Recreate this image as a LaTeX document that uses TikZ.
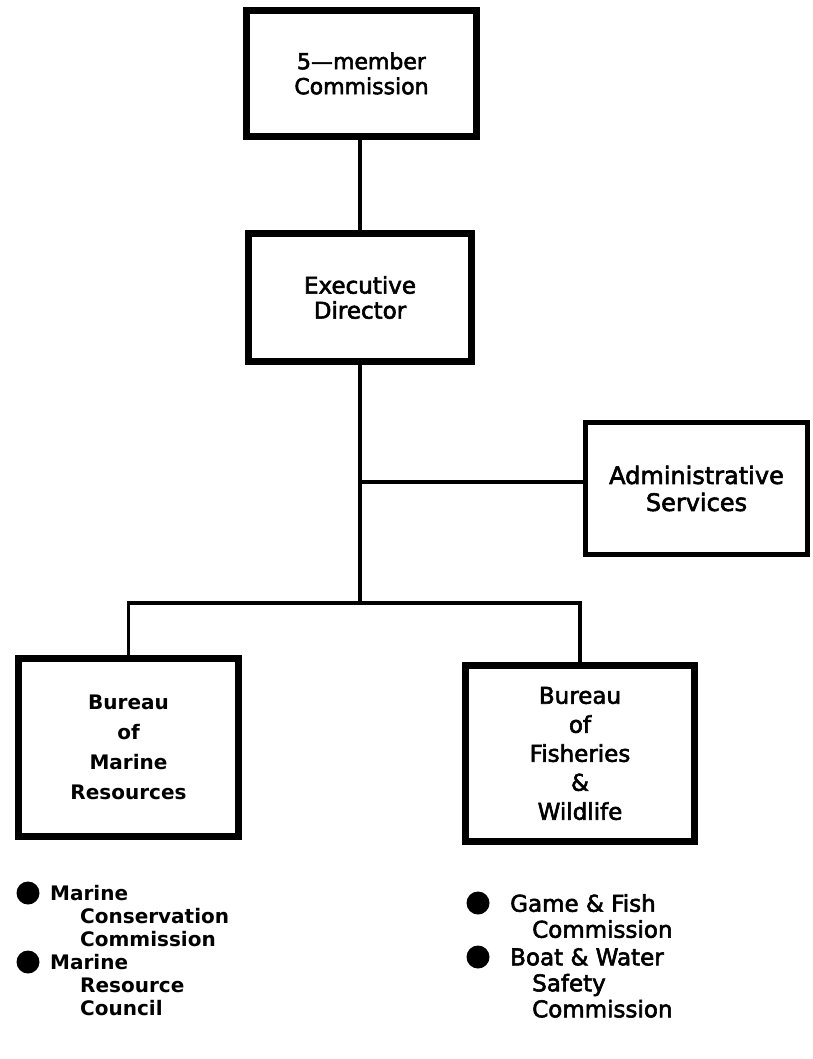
\documentclass[tikz,border=0pt]{standalone}
\usepackage{fontspec}
\setmainfont{DejaVu Sans}[FakeBold=2.5]
\newfontfamily\heavyf{DejaVu Sans Bold}
\begin{document}
\begin{tikzpicture}[x=1pt,y=-1pt,
  box/.style={draw, line width=7.5pt, inner sep=0pt, align=center, font=\fontsize{23}{25}\selectfont},
  conn/.style={line width=3.2pt},
  dot/.style={circle, fill, inner sep=0pt, minimum size=23pt},
  item/.style={anchor=north west, align=left, inner sep=0pt}]
\useasboundingbox[fill=white] (0,0) rectangle (812,1059);
\node[box, font=\fontsize{22}{25}\selectfont, minimum width=230pt, minimum height=126pt] (comm) at (361.5,73.5) {5---member\\Commission};
\node[box, minimum width=223pt, minimum height=128pt] (ed) at (360,297.5) {Executive\\Director};
\node[box, line width=5pt, font=\fontsize{24}{27}\selectfont, minimum width=222pt, minimum height=132pt] (adm) at (696.5,488.5) {Administrative\\Services};
\node[box, font=\heavyf\fontsize{20}{30}\selectfont, minimum width=220pt, minimum height=178pt] (bmr) at (128.5,747.5) {Bureau\\of\\Marine\\Resources};
\node[box, font=\fontsize{23}{29}\selectfont, minimum width=229pt, minimum height=176pt] (bfw) at (580,753.5) {Bureau\\of\\Fisheries\\\&\\Wildlife};
\coordinate (a1) at (360,482);
\coordinate (bar) at (360,603);
\draw[conn] (ed.north) -- (ed.north |- comm.south);
\draw[conn] (ed.south) -- (bar);
\draw[conn] (a1) -- (a1 -| adm.west);
\draw[conn] (bmr.north) -- (bmr.north |- bar) -- (bfw.north |- bar) -- (bfw.north);
% left list
\node[dot] (d1) at (28,893) {};
\node[dot] (d2) at (28,962) {};
\node[item, font=\heavyf\fontsize{20}{23}\selectfont] (l1) at (50,885) {Marine\\\hspace*{30pt}Conservation\\\hspace*{30pt}Commission};
\node[item, font=\heavyf\fontsize{20}{23}\selectfont] (l2) at (50,954) {Marine\\\hspace*{30pt}Resource\\\hspace*{30pt}Council};
% right list
\node[dot] (d3) at (478,903) {};
\node[dot] (d4) at (478,957) {};
\node[item, font=\fontsize{23}{26}\selectfont] (r1) at (510,894) {Game \& Fish\\\hspace*{22pt}Commission};
\node[item, font=\fontsize{23}{26}\selectfont] (r2) at (510,948) {Boat \& Water\\\hspace*{22pt}Safety\\\hspace*{22pt}Commission};
\end{tikzpicture}
\end{document}
